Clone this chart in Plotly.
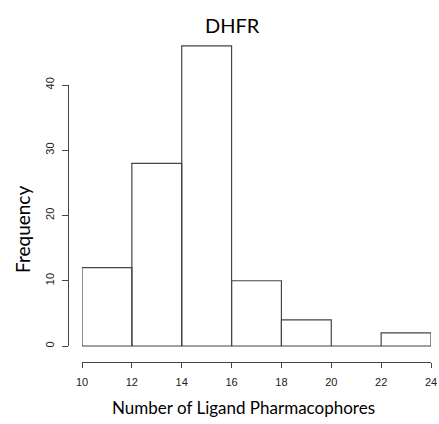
import plotly.graph_objects as go

bin_edges = [10, 12, 14, 16, 18, 20, 22, 24]
counts = [12, 28, 46, 10, 4, 0, 2]
x_ticks = [10, 12, 14, 16, 18, 20, 22, 24]
y_ticks = [0, 10, 20, 30, 40]
title = "DHFR"
x_title = "Number of Ligand Pharmacophores"
y_title = "Frequency"

W, H = 439, 424

def fx(px):
    return px / W

def fy(px):
    return 1 - px / H

# outline of each histogram bin (R-style hist, zero-count bins show as a line)
hx, hy = [], []
for a, b, c in zip(bin_edges[:-1], bin_edges[1:], counts):
    hx += [a, a, b, b, a, None]
    hy += [0, c, c, 0, 0, None]

y0_px, y40_px = 346, 85
ppu = (y0_px - y40_px) / 40.0
top_px = 40
ymin_main = -0.5
ymax_main = (y0_px - top_px) / ppu
bottom_px = y0_px - ymin_main * ppu

line_col = "#444444"
tick_font = dict(family="Liberation Sans, Arial, sans-serif", size=11, color="#222222")

fig = go.Figure()
fig.add_trace(go.Scatter(
    x=hx, y=hy, mode="lines",
    line=dict(color=line_col, width=1.2),
    xaxis="x", yaxis="y", showlegend=False, hoverinfo="skip",
))
fig.add_trace(go.Scatter(
    x=[10], y=[0], mode="markers", marker=dict(opacity=0),
    xaxis="x", yaxis="y2", showlegend=False, hoverinfo="skip",
))

fig.update_layout(
    width=W, height=H,
    margin=dict(l=0, r=0, t=0, b=0, autoexpand=False),
    paper_bgcolor="white", plot_bgcolor="rgba(0,0,0,0)",
    xaxis=dict(
        domain=[fx(82), fx(431)], range=[10, 24],
        anchor="free", position=fy(361.5),
        showline=True, linecolor=line_col, linewidth=1,
        ticks="outside", ticklen=5, tickcolor=line_col, tickwidth=1,
        tickvals=x_ticks, ticktext=[str(v) for v in x_ticks],
        tickfont=tick_font, ticklabelstandoff=5,
        showgrid=False, zeroline=False, automargin=False,
    ),
    yaxis=dict(
        domain=[fy(bottom_px), fy(top_px)], range=[ymin_main, ymax_main],
        anchor="free", position=0,
        visible=False, showgrid=False, zeroline=False,
    ),
    yaxis2=dict(
        domain=[fy(y0_px), fy(y40_px)], range=[0, 40],
        anchor="free", position=fx(68),
        showline=True, linecolor=line_col, linewidth=1,
        ticks="outside", ticklen=6, tickcolor=line_col, tickwidth=1,
        tickvals=y_ticks, ticktext=[str(v) for v in y_ticks],
        tickangle=-90, tickfont=tick_font, ticklabelstandoff=4,
        showgrid=False, zeroline=False, automargin=False,
    ),
    annotations=[
        dict(text=title, x=fx(232), y=fy(25), xref="paper", yref="paper",
             showarrow=False, xanchor="center", yanchor="middle",
             font=dict(family="Lato, sans-serif", size=20, color="black")),
        dict(text=x_title, x=fx(243), y=fy(407), xref="paper", yref="paper",
             showarrow=False, xanchor="center", yanchor="middle",
             font=dict(family="Lato, sans-serif", size=17, color="black")),
        dict(text=y_title, x=fx(22), y=fy(230), xref="paper", yref="paper",
             showarrow=False, xanchor="center", yanchor="middle", textangle=-90,
             font=dict(family="Lato, sans-serif", size=19, color="black")),
    ],
)

fig.write_html("out.html")
